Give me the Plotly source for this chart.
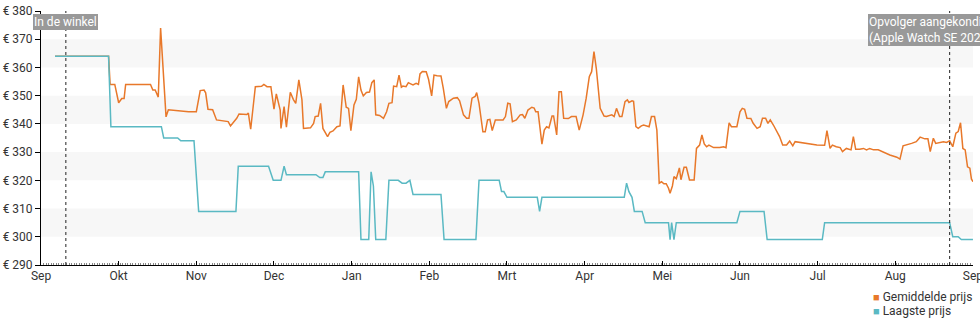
import plotly.graph_objects as go

# ---- axis labels ----
month_labels = ["Sep", "Okt", "Nov", "Dec", "Jan", "Feb", "Mrt", "Apr", "Mei", "Jun", "Jul", "Aug", "Sep"]
month_ticks = list(range(13))  # months since start (equal spacing per month)

# ---- Gemiddelde prijs (average price) : x in months since 1 Sep ----
avg_month = [
    0.18, 0.87, 0.89, 0.95, 1.00, 1.04, 1.07, 1.09, 1.41, 1.44, 1.47,
    1.50, 1.51, 1.54, 1.61, 1.64, 1.79, 1.90, 2.00, 2.05, 2.10,
    2.12, 2.15, 2.21, 2.26, 2.33, 2.41, 2.44, 2.52, 2.55, 2.65,
    2.67, 2.70, 2.76, 2.84, 2.87, 2.91, 2.96, 3.00, 3.03, 3.08,
    3.09, 3.13, 3.16, 3.21, 3.25, 3.28, 3.32, 3.36, 3.38, 3.43,
    3.47, 3.51, 3.53, 3.57, 3.60, 3.63, 3.69, 3.72, 3.76, 3.81,
    3.85, 3.89, 3.93, 3.96, 3.99, 4.03, 4.06, 4.09, 4.12, 4.15,
    4.19, 4.23, 4.26, 4.29, 4.31, 4.36, 4.41, 4.45, 4.48, 4.52,
    4.54, 4.58, 4.61, 4.64, 4.66, 4.70, 4.73, 4.76, 4.79, 4.83,
    4.86, 4.88, 4.91, 4.96, 4.99, 5.03, 5.06, 5.10, 5.15, 5.18,
    5.22, 5.25, 5.31, 5.36, 5.39, 5.44, 5.48, 5.51, 5.55, 5.59,
    5.61, 5.64, 5.69, 5.72, 5.75, 5.78, 5.81, 5.85, 5.95, 5.98,
    6.01, 6.04, 6.07, 6.12, 6.17, 6.20, 6.23, 6.27, 6.32, 6.35,
    6.37, 6.40, 6.45, 6.48, 6.51, 6.54, 6.58, 6.60, 6.64, 6.67,
    6.70, 6.73, 6.79, 6.83, 6.89, 6.93, 6.98, 7.02, 7.06, 7.09,
    7.12, 7.15, 7.20, 7.25, 7.28, 7.35, 7.38, 7.41, 7.45, 7.48,
    7.52, 7.55, 7.57, 7.61, 7.63, 7.66, 7.69, 7.73, 7.76, 7.83,
    7.86, 7.90, 7.93, 7.96, 7.99, 8.02, 8.05, 8.08, 8.10, 8.13,
    8.15, 8.18, 8.22, 8.24, 8.28, 8.31, 8.35, 8.41, 8.44, 8.48,
    8.51, 8.54, 8.57, 8.60, 8.66, 8.74, 8.79, 8.82, 8.86, 8.89,
    8.96, 9.00, 9.03, 9.06, 9.09, 9.14, 9.17, 9.22, 9.26, 9.29,
    9.33, 9.36, 9.39, 9.43, 9.47, 9.51, 9.55, 9.60, 9.64, 9.68,
    9.71, 9.75, 9.84, 9.92, 9.99, 10.09, 10.12, 10.16, 10.19, 10.24,
    10.29, 10.32, 10.37, 10.43, 10.46, 10.49, 10.54, 10.59, 10.63, 10.67,
    10.72, 10.78, 10.85, 10.93, 11.02, 11.06, 11.10, 11.15, 11.21, 11.27,
    11.32, 11.38, 11.42, 11.45, 11.49, 11.52, 11.57, 11.62, 11.66, 11.70,
    11.74, 11.78, 11.81, 11.84, 11.87, 11.90, 11.93, 11.96, 11.98, 12.00,
]
avg_price = [
    364, 364, 354, 354, 347.5, 349, 349, 354, 354, 352, 352,
    350, 349.5, 374, 342.5, 345, 344.5, 344.3, 344.3, 351.8, 352,
    351, 345.2, 345, 341.4, 341, 340.8, 339.3, 342, 343.5, 343.3,
    343.8, 338.1, 353.2, 353.3, 354, 353.2, 353.2, 345.2, 350.6, 344.9,
    338.4, 346.1, 338.8, 351.2, 348.6, 347.3, 355.6, 348.5, 338.4, 338.4,
    338.6, 340.2, 342.6, 342.8, 347.3, 338.4, 335.5, 337, 337.5, 339,
    339.3, 353.8, 345.9, 345.5, 337.6, 346.7, 348.7, 356.7, 352, 349.9,
    351.1, 351.3, 354.6, 355.6, 343.2, 343, 342, 344.3, 347.3, 347.5,
    353.4, 353.2, 357.3, 353, 353.4, 353.2, 354.6, 354.2, 353.8, 354.4,
    354, 357.7, 358.6, 358.5, 355.8, 349.9, 357.3, 357.1, 357, 352.6,
    345.5, 347.9, 349.1, 349.3, 348.2, 343.2, 342, 342, 349.1, 349.7,
    351.1, 347.3, 337.2, 337.2, 341.4, 341.6, 337.6, 341.4, 341.4, 342.6,
    347.3, 347.1, 340.8, 341.4, 343.2, 343.3, 342, 344.9, 345.9, 345.6,
    344.3, 344.3, 332.8, 337.8, 339, 338.6, 342.8, 342.8, 336.1, 351.4,
    351.4, 342, 341.9, 342.6, 342.6, 337.8, 343.2, 349.1, 356.7, 358.5,
    365.6, 359.7, 345.5, 342.8, 342.6, 343.2, 342.6, 345.5, 342.6, 342.6,
    347.9, 348.5, 347.6, 348.2, 348, 339, 338.4, 339.3, 339.6, 339,
    342.6, 342.6, 337.8, 319, 319.5, 318.8, 318.8, 317.2, 315.4, 318,
    321.3, 320.6, 324.4, 320.2, 324.6, 324.6, 320.1, 320.1, 331.3, 332.5,
    336.1, 332.9, 331.9, 332.5, 331.6, 331.6, 331.9, 331.6, 340.4, 339,
    339, 344.3, 345.5, 345.2, 342, 341.9, 340.2, 338.4, 339, 342,
    342, 340.2, 341.4, 339.6, 337.8, 335.5, 332.5, 332.5, 333.9, 332.2,
    333.7, 333.5, 333.3, 332.9, 332.5, 332.4, 337.6, 331.3, 332.5, 331.9,
    331.6, 330.2, 331.3, 330.8, 335.5, 331, 331, 331.3, 330.8, 331.3,
    330.8, 330.8, 329.9, 329, 328.2, 327.5, 332.2, 332.5, 333.1, 333.7,
    335.3, 334.7, 334.7, 330.2, 334.9, 333.1, 333.3, 333.7, 333.4, 334,
    331.9, 336.7, 337.3, 340.4, 331.3, 330.8, 324.8, 324.3, 320.5, 319.5,
]

# ---- Laagste prijs (lowest price) ----
low_month = [
    0.18, 0.87, 0.90, 1.55, 1.58, 1.76, 1.80, 1.97, 2.03, 2.51,
    2.54, 2.93, 2.99, 3.09, 3.13, 3.16, 3.54, 3.59, 3.63, 3.66,
    4.09, 4.12, 4.22, 4.25, 4.28, 4.31, 4.44, 4.48, 4.60, 4.65,
    4.70, 4.75, 4.79, 5.15, 5.19, 5.60, 5.64, 5.90, 5.93, 5.96,
    6.00, 6.39, 6.42, 6.45, 7.51, 7.54, 7.57, 7.61, 7.64, 7.74,
    7.78, 8.08, 8.10, 8.12, 8.15, 8.18, 8.96, 9.00, 9.31, 9.35,
    10.06, 10.09, 11.70, 11.74, 11.81, 11.85, 12.00,
]
low_price = [
    364, 364, 339, 339, 335, 335, 334, 334, 309, 309,
    325, 325, 320, 320, 325, 322, 322, 321, 321, 323,
    323, 299, 299, 323, 318, 299, 299, 320, 320, 319,
    319, 320, 315, 315, 299, 299, 320, 320, 316, 316,
    314, 314, 309, 314, 314, 319, 316, 314, 309, 309,
    305, 305, 299, 305, 299, 305, 305, 309, 309, 299,
    299, 305, 305, 300, 300, 299, 299,
]

# ---- events ----
event_month = [0.32, 11.70]
event_label = ["In de winkel", "Opvolger aangekondigd<br>(Apple Watch SE 2022)"]

# ---- background bands ----
band_low = [300, 320, 340, 360]
band_high = [310, 330, 350, 370]

series_names = ["Gemiddelde prijs", "Laagste prijs"]
ORANGE = "#e8782a"
TEAL = "#5ab9c3"
FONT = "Roboto"

fig = go.Figure()
fig.add_trace(go.Scatter(x=avg_month, y=avg_price, mode="lines", name=series_names[0],
                         line=dict(color=ORANGE, width=1.5), showlegend=False))
fig.add_trace(go.Scatter(x=low_month, y=low_price, mode="lines", name=series_names[1],
                         line=dict(color=TEAL, width=1.5), showlegend=False))

shapes = []
for lo, hi in zip(band_low, band_high):
    shapes.append(dict(type="rect", xref="paper", yref="y", x0=0, x1=1, y0=lo, y1=hi,
                       fillcolor="#f7f7f7", line=dict(width=0), layer="below"))
for em in event_month:
    shapes.append(dict(type="line", xref="x", yref="paper", x0=em, x1=em, y0=0, y1=1,
                       line=dict(color="#222", width=1, dash="dot"), layer="above"))

annotations = [
    dict(x=event_month[0], y=1, xref="x", yref="paper", xanchor="center", yanchor="top",
         yshift=-3, text=event_label[0], showarrow=False,
         font=dict(family=FONT, size=12, color="white"),
         bgcolor="#999999", bordercolor="#999999", borderwidth=1, borderpad=0),
    dict(x=event_month[1], y=1, xref="x", yref="paper", xanchor="left", yanchor="top",
         xshift=-82, yshift=-3, text=event_label[1], showarrow=False, align="left",
         font=dict(family=FONT, size=12, color="white"),
         bgcolor="#999999", bordercolor="#999999", borderwidth=1, borderpad=0),
]
colors = [ORANGE, TEAL]
legend_y = [-0.126, -0.181]
for name, col, ly in zip(series_names, colors, legend_y):
    annotations.append(dict(
        x=0.891, y=ly, xref="paper", yref="paper", xanchor="left", yanchor="middle",
        showarrow=False, align="left",
        text=f"<span style='color:{col};font-size:11px'>■</span> {name}",
        font=dict(family=FONT, size=12, color="#333")))

fig.update_layout(
    width=980, height=325,
    margin=dict(l=41, r=7, t=11, b=60, pad=0, autoexpand=False),
    paper_bgcolor="white", plot_bgcolor="white",
    font=dict(family=FONT, size=12, color="#333"),
    shapes=shapes, annotations=annotations,
    showlegend=False,
    hovermode="x",
)
fig.update_xaxes(
    range=[0, 12.0005], tickmode="array", tickvals=month_ticks, ticktext=month_labels,
    automargin=False, ticklabeloverflow="allow",
    showgrid=False, zeroline=False, showline=True, linecolor="#000", linewidth=1,
    ticks="inside", ticklen=4, tickcolor="#000",
    minor=dict(tickmode="linear", tick0=0, dtick=12 / 365, ticks="inside", ticklen=2,
               tickcolor="#888", showgrid=False),
    tickfont=dict(family=FONT, size=12, color="#333"),
)
fig.update_yaxes(
    range=[290, 380], dtick=10, tick0=290, tickprefix="€ ",
    automargin=False, ticklabeloverflow="allow",
    showgrid=False, zeroline=False, showline=True, linecolor="#000", linewidth=1,
    ticks="outside", ticklen=5, tickcolor="#000",
    tickfont=dict(family=FONT, size=12, color="#333"),
)

fig.write_html("out.html")
